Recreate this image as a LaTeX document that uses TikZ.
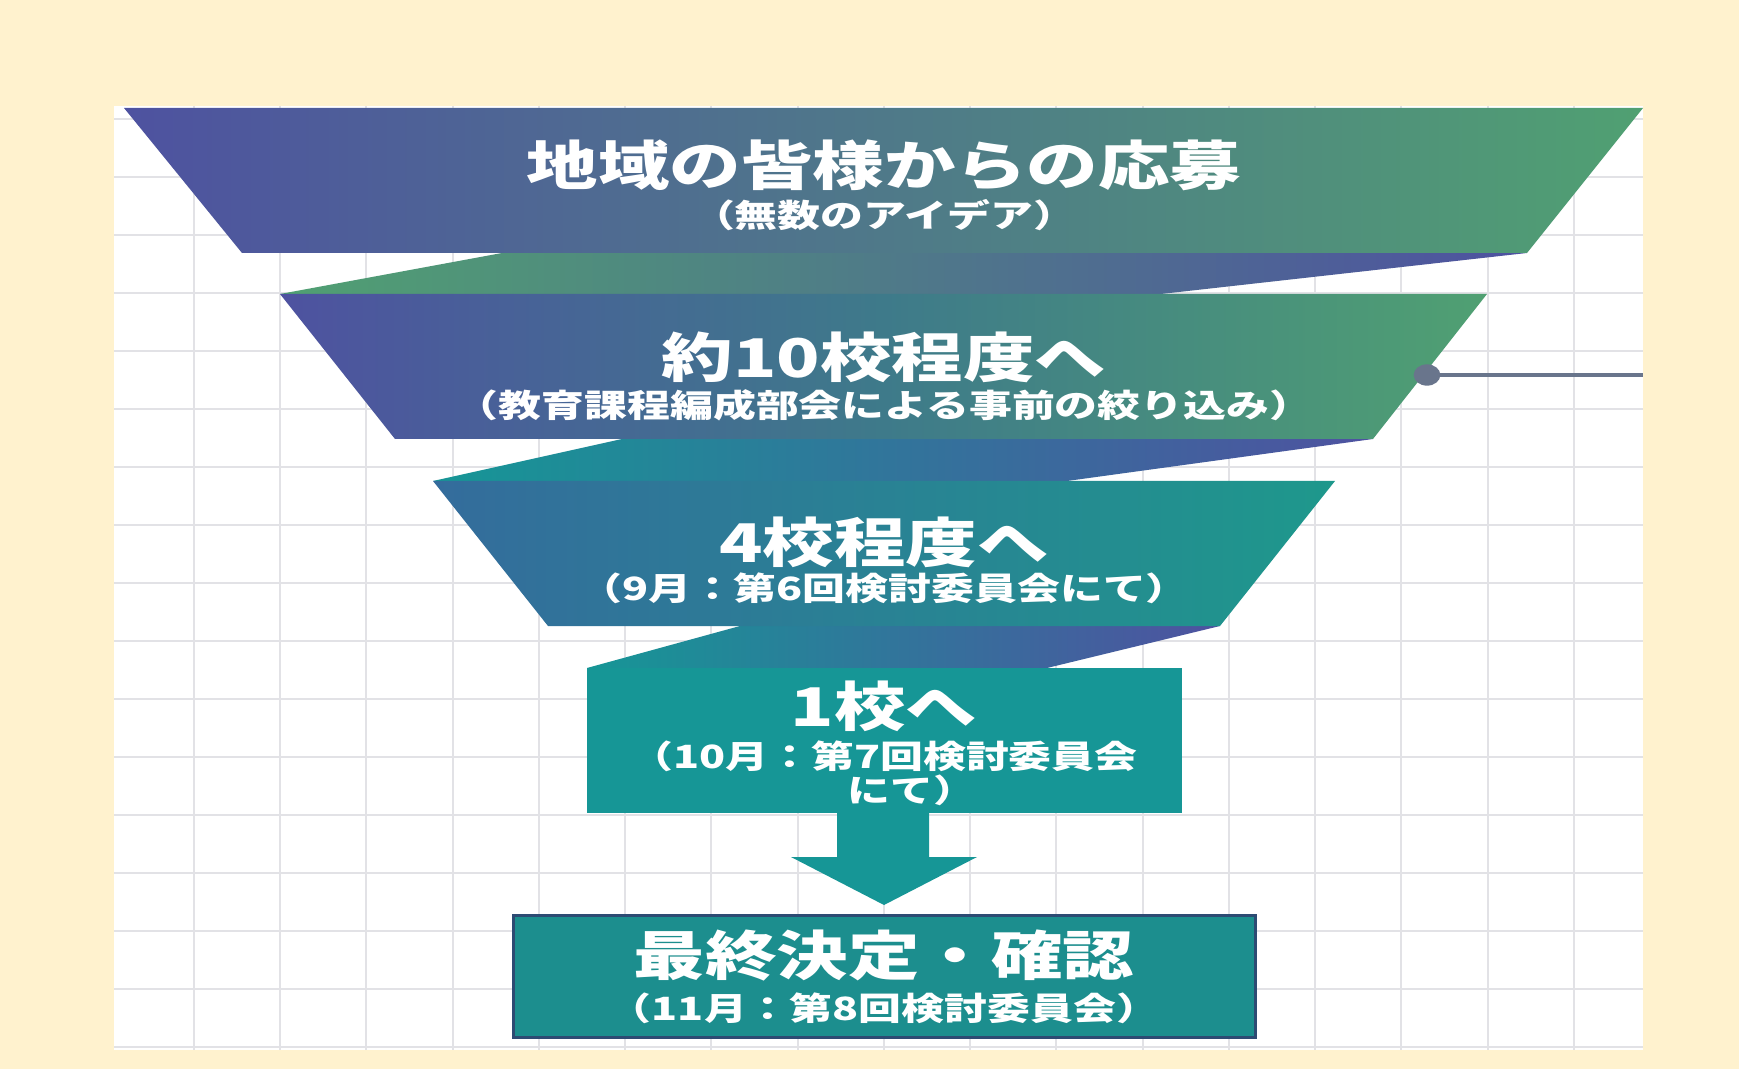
\documentclass[tikz,border=0pt]{standalone}
\usepackage{fontspec}
\newfontfamily\jpfont[FakeStretch=1.34]{Noto Sans CJK JP}
\definecolor{cream}{RGB}{255,242,206}
\definecolor{gridgray}{RGB}{226,226,230}
\definecolor{indigo}{RGB}{78,82,160}
\definecolor{leaf}{RGB}{80,160,114}
\definecolor{tealA}{RGB}{22,150,150}
\definecolor{tealB}{RGB}{52,108,156}
\definecolor{tealC}{RGB}{30,152,140}
\definecolor{boxfill}{RGB}{28,142,142}
\definecolor{boxline}{RGB}{45,75,115}
\definecolor{pingray}{RGB}{105,117,140}

\tikzset{every picture/.style={line width=0.75pt}}
\tikzset{
  titletext/.style={text=white,inner sep=0pt,font=\jpfont\bfseries\fontsize{40}{44}\selectfont},
  subtext/.style={text=white,inner sep=0pt,align=center,font=\jpfont\bfseries\fontsize{24}{25.5}\selectfont},
}

\begin{document}
\begin{tikzpicture}[x=0.75pt,y=0.75pt,yscale=-1,xscale=1]
	\path[use as bounding box] (0,0) rectangle (1739,1069);
	
	%Shape: Background
	\fill[cream] (0,0) rectangle (1739,1069);
	%Shape: Panel
	\fill[white] (114,106) rectangle (1643,1050);
	%Grid
	\foreach \gx in {193.75,280,366.25,452.5,538.75,625,711.25,797.5,883.75,970,1056.25,1142.5,1228.75,1315,1401.25,1487.5,1573.75}
		\draw[gridgray,line width=1.5pt] (\gx,106) -- (\gx,1050);
	\foreach \gy in {119,177,235,293,351,409,467,525,583,641,699,757,815,873,931,989,1047}
		\draw[gridgray,line width=1.5pt] (114,\gy) -- (1643,\gy);
	
	%Shape: Band [1-2]
	\shade[left color=leaf,right color=indigo] (502,253) -- (1527,253) -- (1161,294) -- (280,294) -- cycle ;
	%Shape: Band [2-3]
	\shade[left color=tealA,right color=indigo] (622,439) -- (1373,439) -- (1067,481) -- (433,481) -- cycle ;
	%Shape: Band [3-4]
	\shade[left color=tealA,right color=indigo] (740,626) -- (1220,626) -- (1047,668) -- (587,668) -- cycle ;
	
	%Shape: Trapezoid [1]
	\shade[left color=indigo,right color=leaf] (124,108) -- (1643,108) -- (1527,253) -- (242,253) -- cycle ;
	%Shape: Trapezoid [2]
	\shade[left color=indigo,right color=leaf,middle color={rgb,255:red,62;green,122;blue,138}] (280,294) -- (1487,294) -- (1373,439) -- (395,439) -- cycle ;
	%Shape: Trapezoid [3]
	\shade[left color=tealB,right color=tealC] (433,481) -- (1335,481) -- (1220,626) -- (548,626) -- cycle ;
	%Shape: Rectangle [4]
	\fill[tealA] (587,668) rectangle (1182,813) ;
	%Shape: Arrow
	\fill[tealA] (837,812) -- (929,812) -- (929,857) -- (977,857) -- (884,905) -- (791,857) -- (837,857) -- cycle ;
	%Shape: Rectangle [final]
	\draw[boxline,fill=boxfill,line width=2.25pt] (513,915) rectangle (1255,1037) ;
	
	%Pin
	\coordinate (pin) at (1427,375);
	\coordinate (pinend) at (1643,375);
	\draw[pingray,line width=3pt] (pin) -- (pinend) ;
	\fill[pingray] (pin) ellipse [x radius=10pt,y radius=8pt] ;
	
	% Text Node
	\node (entry) at (884,165) [titletext] {地域の皆様からの応募};
	% Text Node
	\node (entrysub) at (884,215) [subtext] {（無数のアイデア）};
	% Text Node
	\node (ten) at (884,357) [titletext] {約10校程度へ};
	% Text Node
	\node (tensub) at (884,405) [subtext] {（教育課程編成部会による事前の絞り込み）};
	% Text Node
	\node (four) at (884,542) [titletext] {4校程度へ};
	% Text Node
	\node (foursub) at (884,588) [subtext] {（9月：第6回検討委員会にて）};
	% Text Node
	\node (one) at (884,706) [titletext] {1校へ};
	% Text Node
	\node (onesub) at (884,773) [subtext] {（10月：第7回検討委員会\\\hspace*{42pt}にて）};
	% Text Node
	\node (final) at (884,955) [titletext] {最終決定・確認};
	% Text Node
	\node (finalsub) at (884,1008) [subtext] {（11月：第8回検討委員会）};
	
\end{tikzpicture}
\end{document}
